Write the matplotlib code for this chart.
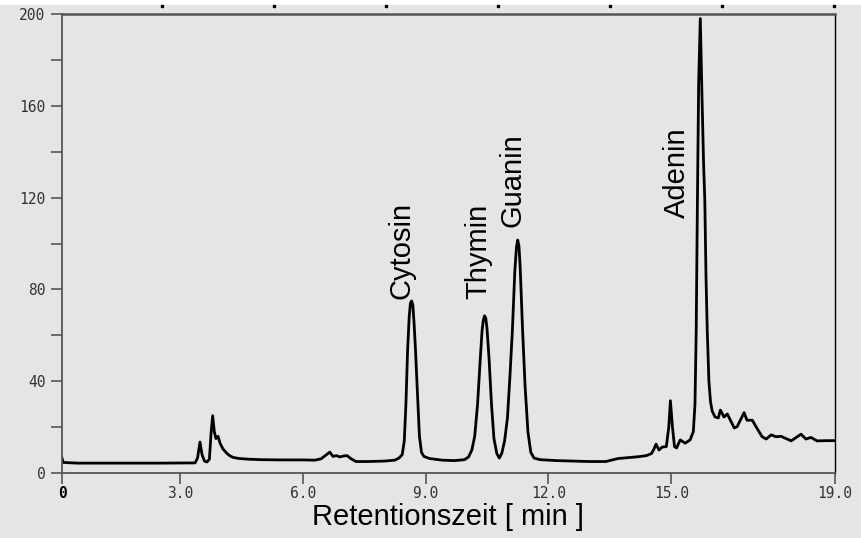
import numpy as np
import matplotlib
matplotlib.use("Agg")
import matplotlib.pyplot as plt
from matplotlib.patches import Rectangle

# HPLC trace: retention time [min] and detector signal
time_min = [
    0.12, 0.15, 0.5, 1.5, 2.5, 3.37, 3.43, 3.49, 3.54, 3.60, 3.66, 3.72, 3.76,
    3.80, 3.84, 3.88, 3.93, 3.98, 4.05, 4.15, 4.22, 4.30, 4.45, 4.7, 5.0, 5.5,
    6.0, 6.3, 6.45, 6.58, 6.66, 6.74, 6.82, 6.90, 7.00, 7.08, 7.18, 7.30, 7.6,
    8.0, 8.25, 8.35, 8.43, 8.48, 8.52, 8.56, 8.60, 8.63, 8.66, 8.69, 8.72,
    8.75, 8.80, 8.85, 8.90, 8.96, 9.10, 9.4, 9.7, 9.95, 10.05, 10.13, 10.20,
    10.27, 10.33, 10.38, 10.41, 10.44, 10.47, 10.50, 10.55, 10.61, 10.67,
    10.74, 10.80, 10.86, 10.93, 11.00, 11.06, 11.12, 11.18, 11.22, 11.25,
    11.28, 11.31, 11.37, 11.43, 11.50, 11.57, 11.65, 11.8, 12.2, 12.6, 13.0,
    13.4, 13.7, 14.0, 14.2, 14.4, 14.52, 14.58, 14.63, 14.70, 14.78, 14.88,
    14.94, 14.98, 15.03, 15.08, 15.13, 15.22, 15.34, 15.46, 15.54, 15.58,
    15.61, 15.64, 15.67, 15.71, 15.75, 15.79, 15.82, 15.85, 15.88, 15.92,
    15.96, 16.00, 16.07, 16.15, 16.20, 16.29, 16.37, 16.54, 16.61, 16.78,
    16.85, 16.98, 17.07, 17.22, 17.32, 17.44, 17.56, 17.68, 17.93, 18.17,
    18.29, 18.41, 18.56, 18.80, 19.0,
]
signal = [
    6.5, 4.6, 4.3, 4.3, 4.3, 4.4, 6.5, 13.5, 8.0, 5.2, 4.8, 6.0, 17.0,
    25.0, 18.0, 15.0, 16.0, 13.0, 10.5, 8.5, 7.5, 6.8, 6.3, 6.0, 5.8, 5.7,
    5.7, 5.6, 6.2, 8.0, 9.1, 7.2, 7.6, 7.0, 7.4, 7.6, 6.2, 5.0, 5.0,
    5.2, 5.6, 6.5, 8.0, 14.0, 30.0, 53.0, 68.0, 74.0, 75.0, 73.0, 65.0,
    55.0, 35.0, 16.0, 9.0, 7.2, 6.3, 5.6, 5.4, 5.8, 7.0, 10.0, 16.0,
    30.0, 48.0, 62.0, 66.5, 68.5, 67.5, 63.0, 50.0, 30.0, 15.0,
    8.5, 6.5, 8.5, 14.0, 24.0, 42.0, 62.0, 88.0, 98.5, 101.5,
    99.0, 90.0, 62.0, 38.0, 18.0, 9.0, 6.5, 5.8, 5.4, 5.2, 5.0,
    5.0, 6.3, 6.8, 7.1, 7.6, 8.5, 10.5, 12.6, 10.0, 11.3, 11.5,
    20.0, 31.5, 20.0, 11.5, 10.9, 14.4, 13.0, 14.4, 18.0, 30.0,
    62.0, 119.0, 170.0, 198.0, 165.0, 135.0, 119.0, 85.0, 62.0, 40.0,
    31.0, 27.0, 24.4, 24.0, 27.4, 24.4, 25.7, 19.6, 20.2, 26.3,
    23.0, 23.0, 20.2, 15.8, 14.8, 16.6, 15.8, 16.0, 14.0, 16.9,
    14.8, 15.5, 14.0, 14.1, 14.1,
]

# peak names and where their labels sit (time, signal)
peak_names = ["Cytosin", "Thymin", "Guanin", "Adenin"]
label_time = [8.40, 10.30, 11.12, 15.15]
label_signal = [76, 76, 107, 111]

x_ticks = [0.12, 3.0, 6.0, 9.0, 12.0, 15.0, 19.0]
x_tick_labels = ["0", "3.0", "6.0", "9.0", "12.0", "15.0", "19.0"]
y_ticks = [0, 40, 80, 120, 160, 200]

bg = "#e5e5e5"
fig = plt.figure(figsize=(8.61, 5.38), dpi=100, facecolor=bg)
fig.patches.append(Rectangle((0, 1 - 5 / 538), 1, 5 / 538, transform=fig.transFigure,
                             facecolor="white", edgecolor="none", zorder=0))
ax = fig.add_axes([62 / 861, 65 / 538, 773 / 861, 459 / 538], facecolor=bg)

ax.plot(time_min, signal, color="black", lw=2.0, solid_joinstyle="round")

for name, t, s in zip(peak_names, label_time, label_signal):
    ax.text(t, s, name, rotation=90, ha="center", va="bottom",
            fontsize=21, family="Liberation Sans", color="black")

ax.set_xlim(0.12, 19.0)
ax.set_ylim(0, 200)

tick_font = dict(family="DejaVu Sans Mono", size=10.5, color="#333333")
ax.set_xticks(x_ticks)
ax.set_xticklabels(x_tick_labels, **tick_font)
ax.get_xticklabels()[0].set_fontweight("bold")
ax.get_xticklabels()[0].set_color("black")
ax.set_yticks(y_ticks)
ax.set_yticklabels([str(v) for v in y_ticks], **tick_font)
ax.set_yticks([20, 60, 100, 140, 180], minor=True)
ax.tick_params(axis="both", which="both", direction="out", length=8,
               width=1.2, color="#555555", pad=1)
ax.tick_params(axis="y", pad=4)

for side in ["left", "bottom"]:
    ax.spines[side].set_color("#555555")
    ax.spines[side].set_linewidth(1.3)
ax.spines["top"].set_color("#555555")
ax.spines["top"].set_linewidth(1.8)
ax.spines["right"].set_color("black")
ax.spines["right"].set_linewidth(1.0)

ax.set_xlabel("Retentionszeit [ min ]", family="Liberation Sans", fontsize=21,
              labelpad=2)

# small marks along the top edge
dots_x = np.linspace(162, 834, 7) / 861
fig.add_artist(plt.Line2D(dots_x, [1 - 6 / 538] * 7, transform=fig.transFigure,
                          ls="none", marker="s", ms=1.6, color="black"))

fig.savefig("out.png", dpi=100, facecolor=bg)
